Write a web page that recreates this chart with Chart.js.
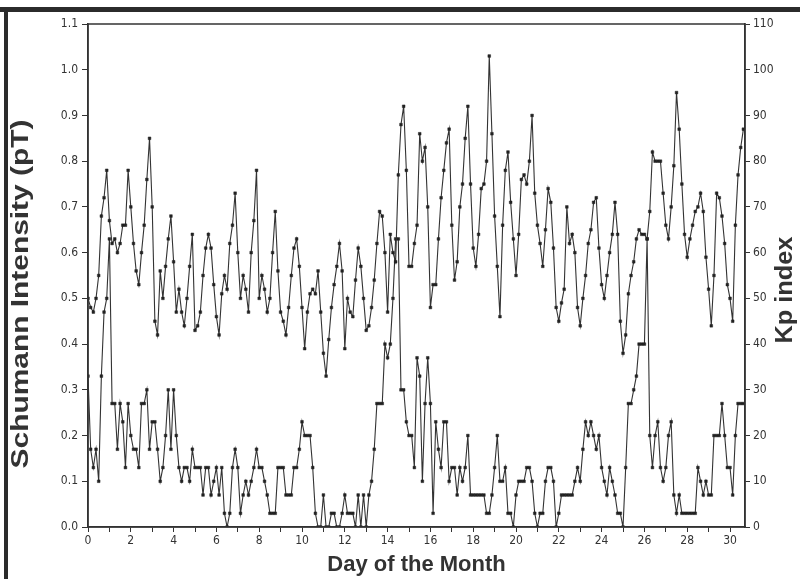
<!DOCTYPE html>
<html>
<head>
<meta charset="utf-8">
<script src="https://cdn.jsdelivr.net/npm/chart.js@4/dist/chart.umd.min.js"></script>
<style>
  body { margin: 0; background: #fff; }
  #wrap { position: relative; width: 800px; height: 579px; overflow: hidden; background: #fff; }
  #topband { position: absolute; left: 0; top: 7px; width: 800px; height: 5px; background: #2b2b2b; }
  #leftband { position: absolute; left: 4px; top: 7px; width: 4px; height: 572px; background: #2b2b2b; }
  canvas { position: absolute; left: 0; top: 0; }
</style>
</head>
<body>
<div id="wrap">
  <div id="topband"></div>
  <div id="leftband"></div>
  <canvas id="chart" width="800" height="579"></canvas>
</div>
<script>
// 3-hourly samples, 8 per day, starting at day 0
var perDay = 8;

// Schumann intensity (pT), left axis
var schumann = [
  0.50, 0.48, 0.47, 0.50, 0.55, 0.68, 0.72, 0.78,   // day 0
  0.67, 0.62, 0.63, 0.60, 0.62, 0.66, 0.66, 0.78,   // day 1
  0.70, 0.62, 0.56, 0.53, 0.60, 0.66, 0.76, 0.85,   // day 2
  0.70, 0.45, 0.42, 0.56, 0.50, 0.57, 0.63, 0.68,   // day 3
  0.58, 0.47, 0.52, 0.47, 0.44, 0.50, 0.57, 0.64,   // day 4
  0.43, 0.44, 0.47, 0.55, 0.61, 0.64, 0.61, 0.53,   // day 5
  0.46, 0.42, 0.51, 0.55, 0.52, 0.62, 0.66, 0.73,   // day 6
  0.60, 0.50, 0.55, 0.52, 0.47, 0.60, 0.67, 0.78,   // day 7
  0.50, 0.55, 0.52, 0.47, 0.50, 0.60, 0.69, 0.56,   // day 8
  0.47, 0.45, 0.42, 0.48, 0.55, 0.61, 0.63, 0.57,   // day 9
  0.48, 0.39, 0.47, 0.51, 0.52, 0.51, 0.56, 0.47,   // day 10
  0.38, 0.33, 0.41, 0.48, 0.53, 0.57, 0.62, 0.56,   // day 11
  0.39, 0.50, 0.47, 0.46, 0.54, 0.61, 0.57, 0.50,   // day 12
  0.43, 0.44, 0.48, 0.54, 0.62, 0.69, 0.68, 0.60,   // day 13
  0.47, 0.64, 0.60, 0.58, 0.77, 0.88, 0.92, 0.78,   // day 14
  0.57, 0.57, 0.62, 0.66, 0.86, 0.80, 0.83, 0.70,   // day 15
  0.48, 0.53, 0.53, 0.63, 0.72, 0.78, 0.84, 0.87,   // day 16
  0.66, 0.54, 0.58, 0.70, 0.75, 0.85, 0.92, 0.75,   // day 17
  0.61, 0.57, 0.64, 0.74, 0.75, 0.80, 1.03, 0.86,   // day 18
  0.68, 0.57, 0.46, 0.66, 0.78, 0.82, 0.71, 0.63,   // day 19
  0.55, 0.64, 0.76, 0.77, 0.75, 0.80, 0.90, 0.73,   // day 20
  0.66, 0.62, 0.57, 0.65, 0.74, 0.71, 0.61, 0.48,   // day 21
  0.45, 0.49, 0.52, 0.70, 0.62, 0.64, 0.60, 0.48,   // day 22
  0.44, 0.50, 0.55, 0.62, 0.65, 0.71, 0.72, 0.61,   // day 23
  0.53, 0.50, 0.55, 0.60, 0.64, 0.71, 0.64, 0.45,   // day 24
  0.38, 0.42, 0.51, 0.55, 0.58, 0.63, 0.65, 0.64,   // day 25
  0.64, 0.63, 0.69, 0.82, 0.80, 0.80, 0.80, 0.73,   // day 26
  0.66, 0.63, 0.70, 0.79, 0.95, 0.87, 0.75, 0.64,   // day 27
  0.59, 0.63, 0.66, 0.69, 0.70, 0.73, 0.69, 0.59,   // day 28
  0.52, 0.44, 0.55, 0.73, 0.72, 0.68, 0.62, 0.53,   // day 29
  0.50, 0.45, 0.66, 0.77, 0.83, 0.87                // day 30
];

// Kp index, right axis
var kp = [
  33, 17, 13, 17, 10, 33, 47, 50,   // day 0
  63, 27, 27, 17, 27, 23, 13, 27,   // day 1
  20, 17, 17, 13, 27, 27, 30, 17,   // day 2
  23, 23, 17, 10, 13, 20, 30, 17,   // day 3
  30, 20, 13, 10, 13, 13, 10, 17,   // day 4
  13, 13, 13, 7, 13, 13, 7, 10,     // day 5
  13, 7, 13, 3, 0, 3, 13, 17,       // day 6
  13, 3, 7, 10, 7, 10, 13, 17,      // day 7
  13, 13, 10, 7, 3, 3, 3, 13,       // day 8
  13, 13, 7, 7, 7, 13, 13, 17,      // day 9
  23, 20, 20, 20, 13, 3, 0, 0,      // day 10
  7, 0, 0, 3, 3, 0, 0, 3,           // day 11
  7, 3, 3, 3, 0, 7, 0, 7,           // day 12
  0, 7, 10, 17, 27, 27, 27, 40,     // day 13
  37, 40, 50, 63, 63, 30, 30, 23,   // day 14
  20, 20, 13, 37, 33, 10, 27, 37,   // day 15
  27, 3, 23, 17, 13, 23, 23, 10,    // day 16
  13, 13, 7, 13, 10, 13, 20, 7,     // day 17
  7, 7, 7, 7, 7, 3, 3, 7,           // day 18
  13, 20, 10, 10, 13, 3, 3, 0,      // day 19
  7, 10, 10, 10, 13, 13, 10, 3,     // day 20
  0, 3, 3, 10, 13, 13, 10, 0,       // day 21
  3, 7, 7, 7, 7, 7, 10, 13,         // day 22
  10, 17, 23, 20, 23, 20, 17, 20,   // day 23
  13, 10, 7, 13, 10, 7, 3, 3,       // day 24
  0, 13, 27, 27, 30, 33, 40, 40,    // day 25
  40, 63, 20, 13, 20, 23, 13, 10,   // day 26
  13, 20, 23, 7, 3, 7, 3, 3,        // day 27
  3, 3, 3, 3, 13, 10, 7, 10,        // day 28
  7, 7, 20, 20, 20, 27, 20, 13,     // day 29
  13, 7, 20, 27, 27, 27             // day 30
];

var ink = '#333';
var tickFont = { family: '"Liberation Sans Narrow", "DejaVu Sans Condensed", Arial, sans-serif', size: 12 };
var titleFont = { family: '"Liberation Sans", Arial, sans-serif', size: 22, weight: 'bold' };

function toPoints(values) {
  var pts = [];
  for (var i = 0; i < values.length; i++) {
    pts.push({ x: i / perDay, y: values[i] });
  }
  return pts;
}

// text along a vertical axis, stretched a bit like the scanned original
function sideTitle(ctx, text, x, y, stretch) {
  ctx.save();
  ctx.translate(x, y);
  ctx.rotate(-Math.PI / 2);
  ctx.scale(stretch, 1);
  ctx.font = 'bold 23px "Liberation Sans", Arial, sans-serif';
  ctx.fillStyle = ink;
  ctx.textAlign = 'center';
  ctx.textBaseline = 'middle';
  ctx.fillText(text, 0, 0);
  ctx.restore();
}

// box round the plot and the two vertical titles
var frame = {
  id: 'frame',
  afterDraw: function (chart) {
    var ctx = chart.ctx, a = chart.chartArea;
    ctx.save();
    ctx.strokeStyle = ink;
    ctx.lineWidth = 1.5;
    ctx.strokeRect(a.left, a.top, a.right - a.left, a.bottom - a.top);
    ctx.restore();
    sideTitle(ctx, 'Schumann Intensity (pT)', 22, 294, 1.3);
    sideTitle(ctx, 'Kp index', 786, 290, 1.1);
  }
};

var lineStyle = {
  showLine: true,
  borderColor: ink,
  borderWidth: 1.1,
  pointStyle: 'rect',
  pointRadius: 1.9,
  pointBackgroundColor: '#222',
  pointBorderColor: '#222',
  pointBorderWidth: 0.5,
  tension: 0
};

var ctx = document.getElementById('chart').getContext('2d');
var myChart = new Chart(ctx, {
  type: 'scatter',
  data: {
    datasets: [
      Object.assign({ label: 'Schumann Intensity', data: toPoints(schumann), yAxisID: 'y' }, lineStyle),
      Object.assign({ label: 'Kp index', data: toPoints(kp), yAxisID: 'y2' }, lineStyle)
    ]
  },
  options: {
    responsive: false,
    animation: false,
    layout: { padding: { top: 24, left: 0, right: 0, bottom: 0 } },
    plugins: { legend: { display: false }, tooltip: { enabled: false } },
    scales: {
      x: {
        type: 'linear',
        min: 0,
        max: 30.7,
        afterFit: function (s) { s.height = 52; },
        ticks: {
          stepSize: 1,
          includeBounds: false,
          autoSkip: false,
          maxRotation: 0,
          padding: 2,
          color: ink,
          font: tickFont,
          callback: function (v) { return v % 2 === 0 ? v : ''; }
        },
        grid: { drawOnChartArea: false, drawTicks: true, tickLength: 5, color: ink, lineWidth: 1 },
        border: { color: ink, width: 1.5 },
        title: { display: true, text: 'Day of the Month', color: ink, font: titleFont, padding: { top: 0, bottom: 1 } }
      },
      y: {
        position: 'left',
        min: 0,
        max: 1.1,
        afterFit: function (s) { s.width = 88; },
        ticks: {
          stepSize: 0.1,
          padding: 4,
          color: ink,
          font: tickFont,
          callback: function (v) { return v.toFixed(1); }
        },
        grid: { drawOnChartArea: false, drawTicks: true, tickLength: 6, color: ink, lineWidth: 1 },
        border: { color: ink, width: 1.5 }
      },
      y2: {
        position: 'right',
        min: 0,
        max: 110,
        afterFit: function (s) { s.width = 55; },
        ticks: {
          stepSize: 10,
          padding: 3,
          color: ink,
          font: tickFont
        },
        grid: { drawOnChartArea: false, drawTicks: true, tickLength: 5, color: ink, lineWidth: 1 },
        border: { color: ink, width: 1.5 }
      }
    }
  },
  plugins: [frame]
});
</script>
</body>
</html>
